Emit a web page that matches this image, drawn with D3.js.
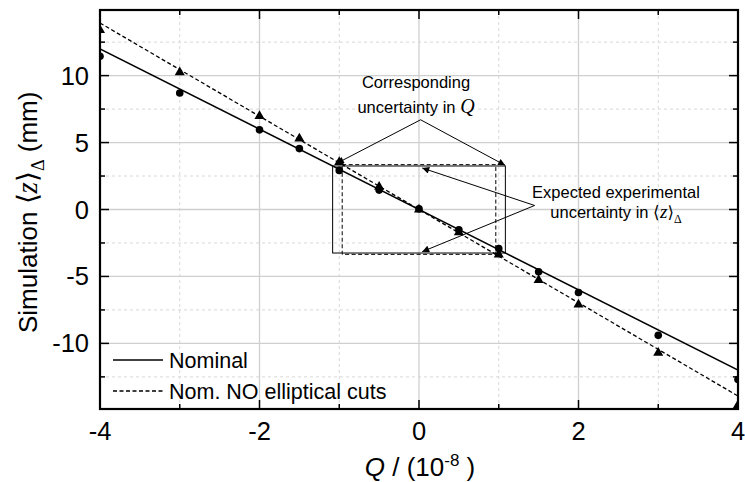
<!DOCTYPE html>
<html>
<head>
<meta charset="utf-8">
<script src="https://cdn.jsdelivr.net/npm/d3@7"></script>
<style>
  body { margin: 0; background: #fff; }
  svg text { font-family: "Liberation Sans", Arial, sans-serif; fill: #000; }
</style>
</head>
<body>
<svg id="chart" width="745" height="482"></svg>
<script>
// Q values (units of 1e-8) and simulated <z>_Delta (mm)
const qValues      = [-4, -3, -2, -1.5, -1, -0.5, 0, 0.5, 1, 1.5, 2, 3, 4];
const nominalZ     = [11.45, 8.7, 5.95, 4.55, 2.92, 1.45, 0.05, -1.52, -2.92, -4.65, -6.2, -9.4, -12.7];
const noCutsZ      = [13.4, 10.25, 6.98, 5.3, 3.55, 1.7, 0.0, -1.7, -3.36, -5.27, -7.1, -10.7, -14.6];

// Linear fits drawn across the full Q range
const fitQ         = [-4, 4];
const nominalFit   = [12.0, -12.0];
const noCutsFit    = [13.93, -13.93];

// Uncertainty boxes: half-width in Q and half-height in <z>
const nominalBox   = [1.083, 3.25];
const noCutsBox    = [0.963, 3.35];

// Axis ticks
const xMajor = [-4, -2, 0, 2, 4];
const xMinor = [-3, -1, 1, 3];
const yMajor = [-10, -5, 0, 5, 10];
const yMinor = [-12.5, -7.5, -2.5, 2.5, 7.5, 12.5];

const legendLabels = ["Nominal", "Nom. NO elliptical cuts"];

const svg = d3.select("#chart");
const L = 100, R = 738, T = 10, B = 409;

const x = d3.scaleLinear().domain([-4, 4]).range([L, R]);
const y = d3.scaleLinear().domain([-14.9, 14.9]).range([B, T]);

const defs = svg.append("defs");
defs.append("clipPath").attr("id", "plotClip")
  .append("rect").attr("x", L).attr("y", T).attr("width", R - L).attr("height", B - T);
defs.append("marker").attr("id", "arrow")
  .attr("viewBox", "0 0 10 10").attr("refX", 10).attr("refY", 5)
  .attr("markerWidth", 11).attr("markerHeight", 7).attr("markerUnits", "userSpaceOnUse")
  .attr("orient", "auto")
  .append("path").attr("d", "M0,0 L10,5 L0,10 Z").attr("fill", "#000");

// Grid
const grid = svg.append("g");
grid.selectAll(".gxm").data(xMinor).join("line")
  .attr("x1", d => x(d)).attr("x2", d => x(d)).attr("y1", T).attr("y2", B)
  .attr("stroke", "#d8d8d8").attr("stroke-width", 1).attr("stroke-dasharray", "3,3");
grid.selectAll(".gym").data(yMinor).join("line")
  .attr("y1", d => y(d)).attr("y2", d => y(d)).attr("x1", L).attr("x2", R)
  .attr("stroke", "#d8d8d8").attr("stroke-width", 1).attr("stroke-dasharray", "3,3");
grid.selectAll(".gxM").data(xMajor.slice(1, -1)).join("line")
  .attr("x1", d => x(d)).attr("x2", d => x(d)).attr("y1", T).attr("y2", B)
  .attr("stroke", "#cfcfcf").attr("stroke-width", 1.3);
grid.selectAll(".gyM").data(yMajor).join("line")
  .attr("y1", d => y(d)).attr("y2", d => y(d)).attr("x1", L).attr("x2", R)
  .attr("stroke", "#cfcfcf").attr("stroke-width", 1.3);

// Fit lines and markers
const plot = svg.append("g").attr("clip-path", "url(#plotClip)");
const line = d3.line().x(d => x(d[0])).y(d => y(d[1]));
plot.append("path").datum(fitQ.map((q, i) => [q, nominalFit[i]]))
  .attr("d", line).attr("fill", "none").attr("stroke", "#000").attr("stroke-width", 1.5);
plot.append("path").datum(fitQ.map((q, i) => [q, noCutsFit[i]]))
  .attr("d", line).attr("fill", "none").attr("stroke", "#000").attr("stroke-width", 1.3)
  .attr("stroke-dasharray", "4,2.5");

plot.selectAll(".tri").data(qValues.map((q, i) => [q, noCutsZ[i]])).join("path")
  .attr("d", d3.symbol(d3.symbolTriangle, 44))
  .attr("transform", d => `translate(${x(d[0])},${y(d[1])})`).attr("fill", "#000");
plot.selectAll(".dot").data(qValues.map((q, i) => [q, nominalZ[i]])).join("circle")
  .attr("cx", d => x(d[0])).attr("cy", d => y(d[1])).attr("r", 3.8).attr("fill", "#000");

// Uncertainty boxes
const boxes = svg.append("g").attr("fill", "none").attr("stroke", "#000").attr("stroke-width", 1);
boxes.append("rect")
  .attr("x", x(-nominalBox[0])).attr("y", y(nominalBox[1]))
  .attr("width", x(nominalBox[0]) - x(-nominalBox[0])).attr("height", y(-nominalBox[1]) - y(nominalBox[1]));
boxes.append("rect")
  .attr("x", x(-noCutsBox[0])).attr("y", y(noCutsBox[1]))
  .attr("width", x(noCutsBox[0]) - x(-noCutsBox[0])).attr("height", y(-noCutsBox[1]) - y(noCutsBox[1]))
  .attr("stroke-dasharray", "4,2.5");

// Annotation arrows (data coordinates)
const arrows = [
  [[0.02, 6.7], [-1.03, 3.45]],
  [[0.02, 6.7], [1.08, 3.3]],
  [[1.45, 0.3], [0.04, 3.1]],
  [[1.45, 0.3], [0.04, -3.15]]
];
svg.append("g").selectAll("line").data(arrows).join("line")
  .attr("x1", d => x(d[0][0])).attr("y1", d => y(d[0][1]))
  .attr("x2", d => x(d[1][0])).attr("y2", d => y(d[1][1]))
  .attr("stroke", "#000").attr("stroke-width", 1).attr("marker-end", "url(#arrow)");

// Annotation text
const ann = svg.append("g").style("font-size", "16.5px").attr("text-anchor", "middle");
ann.append("text").attr("x", 416).attr("y", 88).text("Corresponding");
const a2 = ann.append("text").attr("x", 416).attr("y", 113);
a2.append("tspan").text("uncertainty in ");
a2.append("tspan").style("font-style", "italic").style("font-family", "Liberation Serif, serif").style("font-size", "20px").text("Q");
ann.append("text").attr("x", 616).attr("y", 198).text("Expected experimental");
const a4 = ann.append("text").attr("x", 616).attr("y", 218);
a4.append("tspan").text("uncertainty in ");
a4.append("tspan").style("font-family", "DejaVu Sans").style("font-weight", "200").text("\u27E8");
a4.append("tspan").style("font-style", "italic").style("font-family", "Liberation Serif, serif").style("font-size", "19px").text("z");
a4.append("tspan").style("font-family", "DejaVu Sans").text("\u27E9");
a4.append("tspan").attr("dy", 5).style("font-family", "Liberation Serif, serif").style("font-size", "12px").text("\u0394");

// Axes frame and ticks (inward, mirrored)
const axes = svg.append("g").attr("stroke", "#000");
function ticks(vals, len) {
  vals.forEach(v => {
    axes.append("line").attr("x1", x(v)).attr("x2", x(v)).attr("y1", B).attr("y2", B - len).attr("stroke-width", 1.5);
    axes.append("line").attr("x1", x(v)).attr("x2", x(v)).attr("y1", T).attr("y2", T + len).attr("stroke-width", 1.5);
  });
}
function yticks(vals, len) {
  vals.forEach(v => {
    axes.append("line").attr("y1", y(v)).attr("y2", y(v)).attr("x1", L).attr("x2", L + len).attr("stroke-width", 1.5);
    axes.append("line").attr("y1", y(v)).attr("y2", y(v)).attr("x1", R).attr("x2", R - len).attr("stroke-width", 1.5);
  });
}
ticks(xMajor, 9); ticks(xMinor, 5);
yticks(yMajor, 9); yticks(yMinor, 5);
axes.append("rect").attr("x", L).attr("y", T).attr("width", R - L).attr("height", B - T)
  .attr("fill", "none").attr("stroke-width", 2.2);

// Tick labels
const tl = svg.append("g").style("font-size", "25.5px");
tl.selectAll(".xl").data(xMajor).join("text")
  .attr("x", d => x(d)).attr("y", 440).attr("text-anchor", "middle").text(d => d);
tl.selectAll(".yl").data(yMajor).join("text")
  .attr("x", 89).attr("y", d => y(d) + 9).attr("text-anchor", "end").text(d => d);

// Axis titles
const xt = svg.append("text").attr("x", 420).attr("y", 476).attr("text-anchor", "middle").style("font-size", "26px");
xt.append("tspan").style("font-style", "italic").text("Q");
xt.append("tspan").text(" / (10");
xt.append("tspan").attr("dy", -10).style("font-size", "17px").text("-8");
xt.append("tspan").attr("dy", 10).text("  )");

const yt = svg.append("text").attr("transform", "translate(37,333) rotate(-90)").style("font-size", "26px");
yt.append("tspan").text("Simulation ");
yt.append("tspan").style("font-family", "DejaVu Sans").style("font-weight", "200").style("font-size", "28px").text("\u27E8");
yt.append("tspan").style("font-style", "italic").style("font-family", "Liberation Serif, serif").style("font-size", "29px").text("z");
yt.append("tspan").style("font-family", "DejaVu Sans").style("font-weight", "200").style("font-size", "28px").text("\u27E9");
yt.append("tspan").attr("dy", 7).style("font-family", "Liberation Serif, serif").style("font-size", "18px").text("\u0394");
yt.append("tspan").attr("dy", -7).text(" (mm)");

// Legend
const lg = svg.append("g");
legendLabels.forEach((lab, i) => {
  const yy = 360 + i * 31;
  lg.append("line").attr("x1", 113).attr("x2", 163).attr("y1", yy).attr("y2", yy)
    .attr("stroke", "#000").attr("stroke-width", i === 0 ? 1.5 : 1.3)
    .attr("stroke-dasharray", i === 0 ? null : "4,2.5");
  lg.append("text").attr("x", 169).attr("y", yy + 7.5).style("font-size", "21.5px").text(lab);
});
</script>
</body>
</html>
